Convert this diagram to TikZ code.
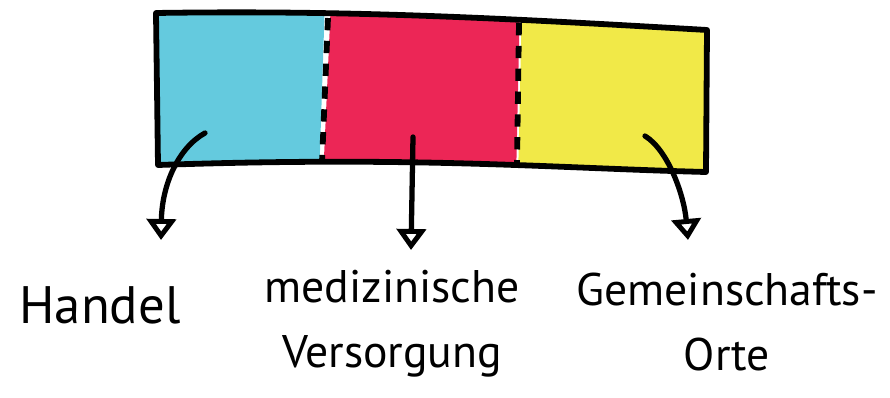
\documentclass[tikz,border=0pt]{standalone}
\usepackage{fontspec}
\setmainfont{PT Sans}
\usepackage{xcolor}
\usetikzlibrary{arrows.meta}

\definecolor{shopcyan}{RGB}{100,202,222}
\definecolor{carered}{RGB}{236,38,86}
\definecolor{placeyellow}{RGB}{241,233,72}

\begin{document}
\begin{tikzpicture}[
  x=0.02cm, y=-0.02cm,
  outline/.style={line width=3.3pt, line join=round, line cap=round},
  divider/.style={line width=3.3pt, dash pattern=on 7pt off 6pt},
  pointer/.style={line width=3pt, line cap=round, -{Triangle[open, length=0.42cm, width=0.58cm, line width=2.8pt]}},
  lbl/.style={font=\fontsize{26}{37}\selectfont, align=center, inner sep=0pt}
]
\useasboundingbox (0,0) rectangle (890,398);

\begin{scope}
\clip (156,13) .. controls (350,10) and (500,18) .. (707,30) -- (706,172) .. controls (550,168) and (420,156) .. (158,165) -- cycle;
\fill[shopcyan] (150,0) -- (325,0) -- (319,180) -- (150,180) -- cycle;
\fill[carered] (331,0) -- (520,0) -- (516,180) -- (323,180) -- cycle;
\fill[placeyellow] (522,0) -- (720,0) -- (720,180) -- (518,180) -- cycle;
\end{scope}
\draw[outline] (156,13) .. controls (350,10) and (500,18) .. (707,30) -- (706,172) .. controls (550,168) and (420,156) .. (158,165) -- cycle;
\draw[divider] (328,18) -- (322,162);
\draw[divider] (519,23) -- (517,165);

\coordinate (hstart) at (205,133);
\coordinate (htip) at (161,240);
\coordinate (mstart) at (413,137);
\coordinate (mtip) at (411,250);
\coordinate (gstart) at (645,136);
\coordinate (gtip) at (688,240);
\draw[pointer] (hstart) .. controls (178,148) and (162,185) .. (htip);
\draw[pointer] (mstart) -- (mtip);
\draw[pointer] (gstart) .. controls (668,150) and (684,195) .. (gtip);

\node[lbl, font=\fontsize{30}{37}\selectfont] (handel) at (100,305) {Handel};
\node[lbl] (versorgung) at (392,324) {medizinische\\Versorgung};
\node[lbl] (orte) at (727,322) {Gemeinschafts-\\Orte};
\end{tikzpicture}
\end{document}
